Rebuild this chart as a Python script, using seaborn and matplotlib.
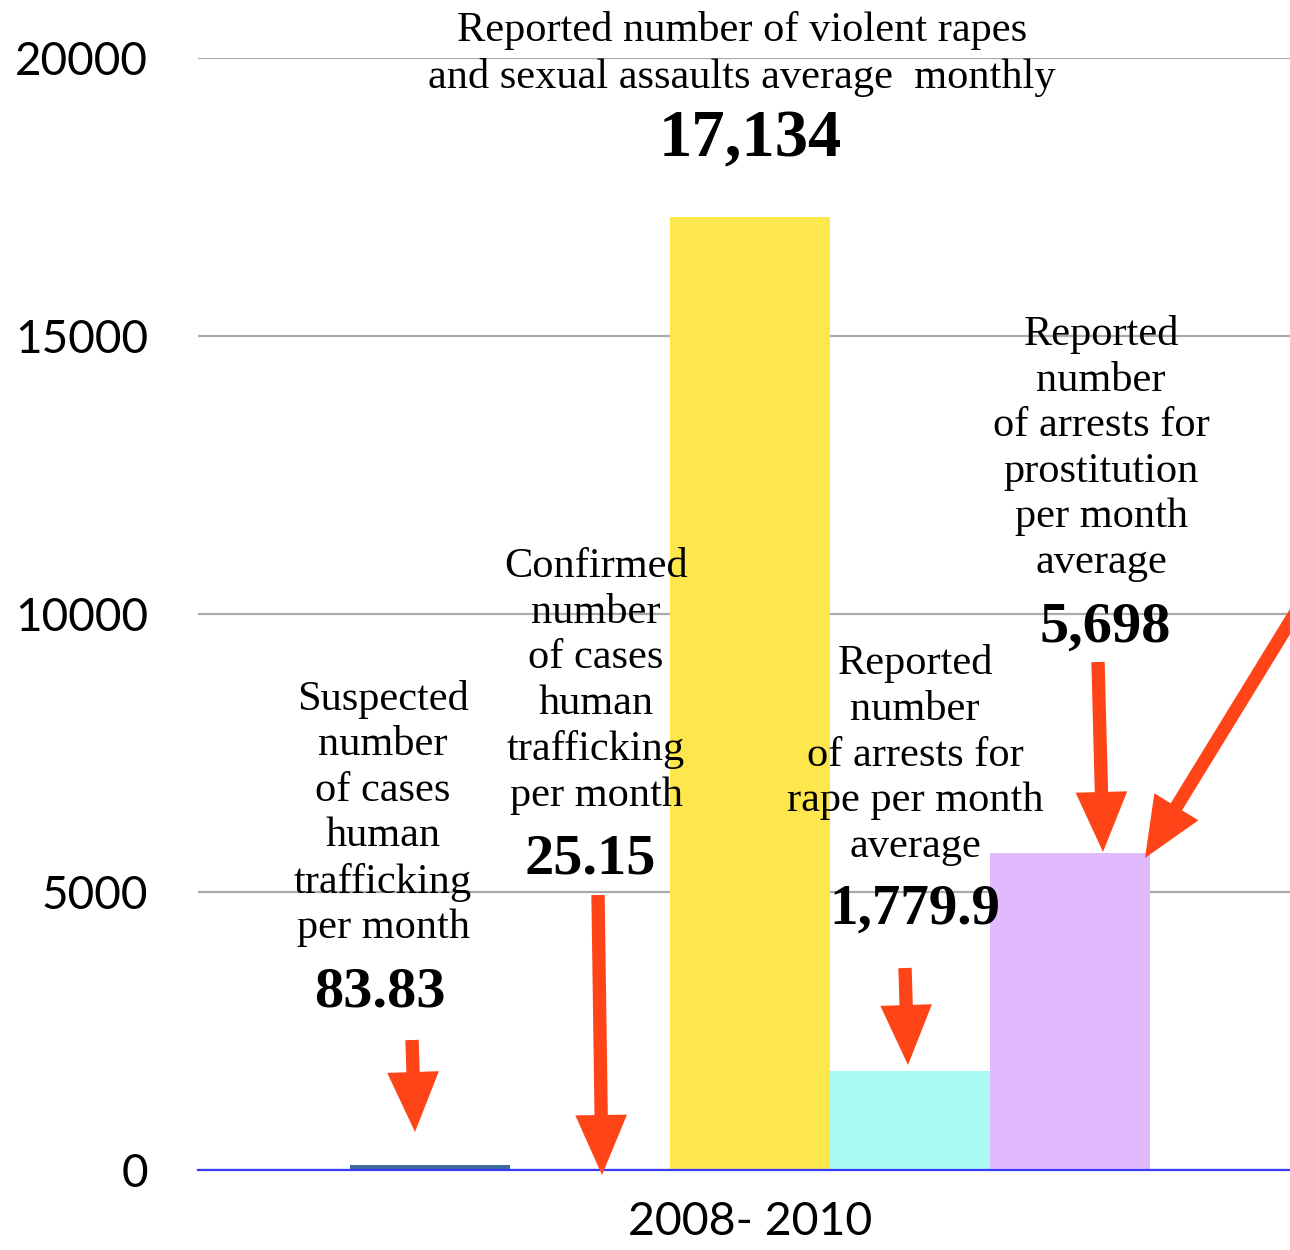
import pandas as pd
import matplotlib.pyplot as plt
import seaborn as sns

# data
period = ["2008- 2010"]
measures = ["suspected_trafficking", "confirmed_trafficking", "rapes_assaults",
            "rape_arrests", "prostitution_arrests"]
values = [83.83, 25.15, 17134, 1779.9, 5698]
bar_colors = ["#3b6c9c", "#5fa85a", "#fde74c", "#a9faf4", "#e0bafd"]
value_labels = ["83.83", "25.15", "17,134", "1,779.9", "5,698"]
descriptions = [
    "Suspected\nnumber\nof cases\nhuman\ntrafficking\nper month",
    "Confirmed\nnumber\nof cases\nhuman\ntrafficking\nper month",
    "Reported number of violent rapes\nand sexual assaults average  monthly",
    "Reported\nnumber\nof arrests for\nrape per month\naverage",
    "Reported\nnumber\nof arrests for\nprostitution\nper month\naverage",
]
yticks = [0, 5000, 10000, 15000, 20000]

df = pd.DataFrame({"period": period * len(values), "measure": measures, "value": values})

sns.set_style("white")
plt.rcParams["font.family"] = ["Lato", "DejaVu Sans"]
plt.rcParams["text.color"] = "black"

fig = plt.figure(figsize=(12.9, 12.5), dpi=100)
ax = fig.add_axes([0.1535, 0.064, 0.8465, 0.8896])

sns.barplot(data=df, x="period", y="value", hue="measure", hue_order=measures,
            palette=bar_colors, width=0.8, dodge=True, legend=False,
            saturation=1, linewidth=0, ax=ax, zorder=2)

ax.set_xlim(-0.552, 0.540)
ax.set_ylim(0, 20000)
ax.set_yticks(yticks)
ax.set_yticklabels([str(t) for t in yticks])
ax.tick_params(axis="y", length=0, pad=36, labelsize=33, labelcolor="black")
ax.tick_params(axis="x", length=0, pad=22, labelsize=33.5, labelcolor="black")
ax.set_xlabel("")
ax.set_ylabel("")
ax.yaxis.grid(True, color="#aaaaaa", lw=1.6, zorder=0)
ax.set_axisbelow(True)
for s in ["top", "right", "left"]:
    ax.spines[s].set_visible(False)
ax.spines["bottom"].set_color("#3a3aff")
ax.spines["bottom"].set_linewidth(1.6)

serif = ["Liberation Serif", "DejaVu Serif"]

# descriptive texts (x, y in data units)
desc_pos = [(-0.367, 6412), (-0.154, 8795), (-0.008, 20072), (0.165, 7464), (0.351, 12977)]
num_pos = [(-0.37, 3184), (-0.16, 5576), (0.0, 18526), (0.165, 4676), (0.355, 9748)]
num_size = [42, 42, 48, 41, 42]
for (x, y), txt in zip(desc_pos, descriptions):
    ax.text(x, y, txt, ha="center", va="center", fontsize=30.5, family=serif,
            color="black", linespacing=1.24, zorder=5)
for (x, y), txt, fs in zip(num_pos, value_labels, num_size):
    ax.text(x, y, txt, ha="center", va="center", fontsize=fs, family=serif,
            color="black", fontweight="bold", zorder=5)

# arrows: (start, end)
arrows = [((-0.338, 2338), (-0.335, 683)),
          ((-0.152, 4946), (-0.148, -90)),
          ((0.155, 3633), (0.158, 1888)),
          ((0.348, 9137), (0.353, 5720)),
          ((0.56, 10450), (0.395, 5612))]
for start, end in arrows:
    ax.annotate("", xy=end, xytext=start, annotation_clip=False,
                arrowprops=dict(arrowstyle="simple,head_width=0.93,head_length=1.08,tail_width=0.24",
                                mutation_scale=40, color="#ff4418", lw=0,
                                shrinkA=0, shrinkB=0))

fig.savefig("out.png", dpi=100)
